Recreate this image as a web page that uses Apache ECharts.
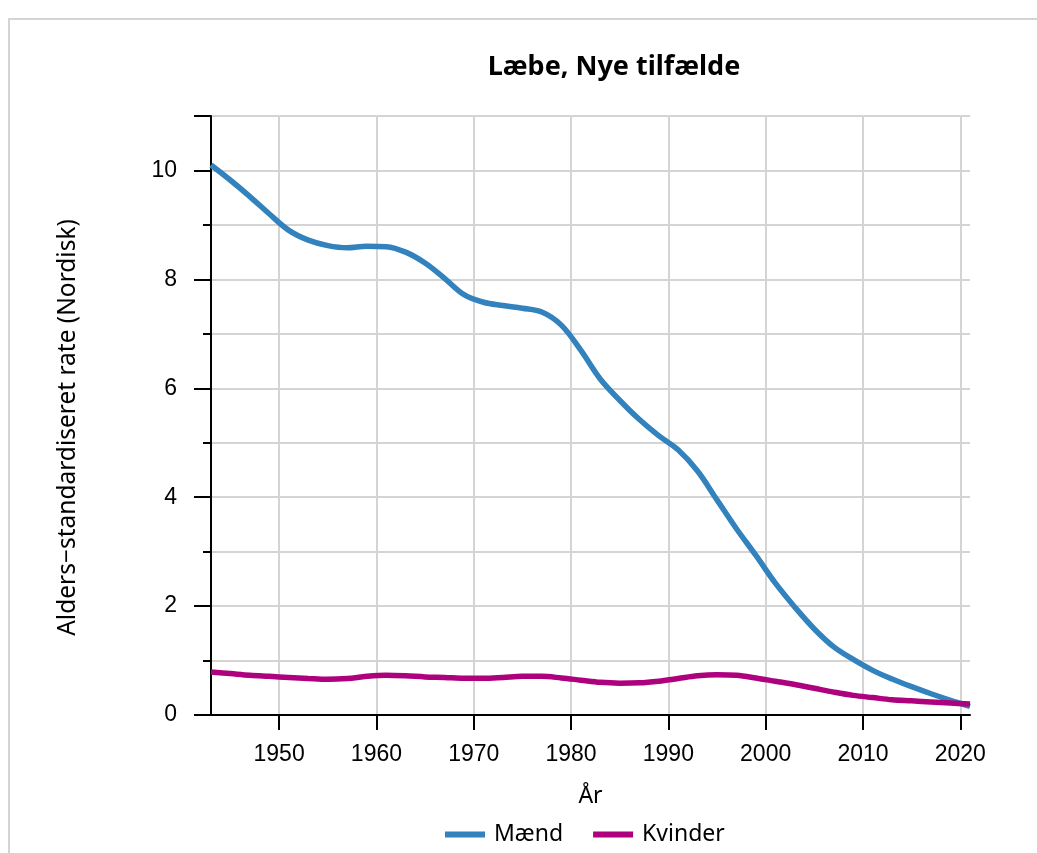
<!DOCTYPE html>
<html>
<head>
<meta charset="utf-8">
<title>Læbe, Nye tilfælde</title>
<script src="https://cdn.jsdelivr.net/npm/echarts@6/dist/echarts.min.js"></script>
<style>
  html, body { margin: 0; padding: 0; background: #fff; }
  #chart { width: 1037px; height: 853px; }
</style>
</head>
<body>
<div id="chart"></div>
<script>
// aar (x) og rater aflaest fra figuren
var years = [1943, 1945, 1947, 1949, 1951, 1953, 1955, 1957, 1959, 1961, 1963, 1965,
  1967, 1969, 1971, 1973, 1975, 1977, 1979, 1981, 1983, 1985, 1987, 1989, 1991, 1993,
  1995, 1997, 1999, 2001, 2003, 2005, 2007, 2009, 2011, 2013, 2015, 2017, 2019, 2021];
var maend = [10.10, 9.82, 9.52, 9.20, 8.90, 8.72, 8.62, 8.58, 8.61, 8.60, 8.50, 8.30,
  8.02, 7.72, 7.58, 7.52, 7.47, 7.40, 7.16, 6.70, 6.17, 5.78, 5.43, 5.13, 4.87, 4.48,
  3.95, 3.42, 2.93, 2.42, 1.98, 1.58, 1.25, 1.02, 0.82, 0.66, 0.52, 0.39, 0.27, 0.16];
var kvinder = [0.79, 0.76, 0.73, 0.71, 0.69, 0.67, 0.655, 0.67, 0.71, 0.73, 0.72, 0.70,
  0.69, 0.675, 0.675, 0.69, 0.71, 0.71, 0.68, 0.64, 0.60, 0.585, 0.59, 0.62, 0.67, 0.72,
  0.74, 0.73, 0.68, 0.62, 0.56, 0.49, 0.42, 0.36, 0.32, 0.28, 0.26, 0.24, 0.22, 0.20];
var xTicks = [1950, 1960, 1970, 1980, 1990, 2000, 2010, 2020];
var seriesNames = ['Mænd', 'Kvinder'];

var labelFont = 'Liberation Sans, Arial, sans-serif';
var textFont = 'Noto Sans, Open Sans, sans-serif';

function pairs(ys) {
  return years.map(function (y, i) { return [y, ys[i]]; });
}

var chart = echarts.init(document.getElementById('chart'), null, { renderer: 'canvas' });

var option = {
  backgroundColor: '#fff',
  animation: false,
  color: ['#3182bd', '#ae017e'],
  title: {
    text: 'Læbe, Nye tilfælde',
    left: 609,
    top: 49,
    textAlign: 'center',
    textStyle: { fontFamily: textFont, fontSize: 27, fontWeight: 'bold', color: '#000' }
  },
  graphic: [{
    type: 'rect',
    shape: { x: 9, y: 19, width: 1040, height: 850 },
    style: { fill: 'none', stroke: '#d4d4d4', lineWidth: 2 },
    silent: true
  }],
  legend: {
    bottom: 2,
    left: 440,
    icon: 'rect',
    itemWidth: 40,
    itemHeight: 6,
    itemGap: 30,
    data: seriesNames,
    textStyle: { fontFamily: textFont, fontSize: 23, color: '#000', padding: [0, 0, 0, 4] }
  },
  grid: { left: 211, top: 116, right: 67, bottom: 138 },
  xAxis: {
    type: 'value',
    min: 1943,
    max: 2021,
    name: 'År',
    nameLocation: 'middle',
    nameGap: 70,
    nameTextStyle: { fontFamily: textFont, fontSize: 23, color: '#000' },
    axisLine: { show: true, onZero: false, lineStyle: { color: '#000', width: 2 } },
    axisTick: { show: true, length: 15, customValues: xTicks, lineStyle: { color: '#000', width: 2 } },
    axisLabel: {
      customValues: xTicks, margin: 28, fontFamily: labelFont, fontSize: 23, color: '#000',
      formatter: function (v) { return String(v); }
    },
    splitLine: { show: true, lineStyle: { color: '#d4d4d4', width: 2 } }
  },
  yAxis: [{
    type: 'value',
    min: 0,
    max: 11,
    interval: 1,
    axisLine: { show: true, lineStyle: { color: '#000', width: 2 } },
    axisTick: { show: true, length: 8, lineStyle: { color: '#000', width: 2 } },
    axisLabel: { show: false },
    splitLine: { show: true, lineStyle: { color: '#d4d4d4', width: 2 } }
  }, {
    type: 'value',
    position: 'left',
    min: 0,
    max: 11,
    interval: 2,
    name: 'Alders−standardiseret rate (Nordisk)',
    nameLocation: 'middle',
    nameGap: 130,
    nameTextStyle: { fontFamily: textFont, fontSize: 24.5, color: '#000', padding: [0, 24, 0, 0] },
    axisLine: { show: false },
    axisTick: { show: true, length: 17, lineStyle: { color: '#000', width: 2 } },
    axisLabel: {
      margin: 34, fontFamily: labelFont, fontSize: 23, color: '#000',
      formatter: function (v) { return v > 10 ? '' : String(v); }
    },
    splitLine: { show: false }
  }],
  series: [{
    name: seriesNames[0],
    type: 'line',
    smooth: 0.35,
    showSymbol: false,
    lineStyle: { width: 5.5 },
    data: pairs(maend)
  }, {
    name: seriesNames[1],
    type: 'line',
    smooth: 0.35,
    showSymbol: false,
    lineStyle: { width: 5.5 },
    data: pairs(kvinder)
  }]
};

chart.setOption(option);
</script>
</body>
</html>
